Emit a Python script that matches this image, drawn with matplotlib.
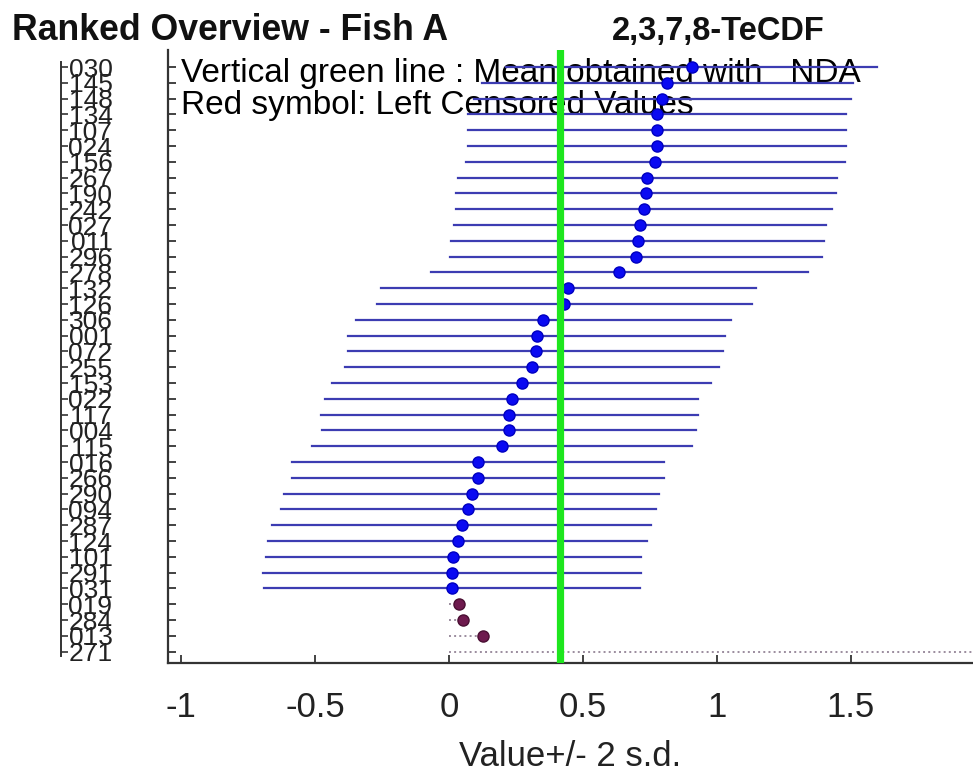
import matplotlib
matplotlib.use('Agg')
import matplotlib.pyplot as plt

plt.rcParams['font.family'] = ['Liberation Sans', 'DejaVu Sans']

# lab codes, ranked from top to bottom
labels = ['030', '145', '148', '134', '107', '024', '156', '267', '190', '242',
          '027', '011', '296', '278', '132', '126', '306', '001', '072', '255',
          '153', '022', '117', '004', '115', '016', '266', '290', '094', '287',
          '124', '101', '291', '031', '019', '284', '013', '271']

# reported values
values = [0.906, 0.815, 0.796, 0.777, 0.777, 0.777, 0.771, 0.741, 0.734, 0.728,
          0.713, 0.704, 0.698, 0.636, 0.445, 0.431, 0.352, 0.327, 0.323, 0.310,
          0.272, 0.234, 0.225, 0.225, 0.197, 0.108, 0.108, 0.085, 0.072, 0.047,
          0.032, 0.016, 0.010, 0.010, 0.038, 0.053, 0.128, 2.10]

# 2 s.d. half widths (only for the non-censored results)
two_sd = [0.694, 0.692, 0.704, 0.707, 0.707, 0.707, 0.707, 0.708, 0.710, 0.701,
          0.696, 0.696, 0.695, 0.705, 0.700, 0.700, 0.700, 0.703, 0.700, 0.700,
          0.708, 0.696, 0.705, 0.699, 0.709, 0.694, 0.694, 0.700, 0.700, 0.709,
          0.709, 0.699, 0.705, 0.703]

# left censored results (value below detection limit)
censored = [False] * 34 + [True] * 4

mean_nda = 0.414

fig = plt.figure(figsize=(9.73, 7.75), dpi=100)
ax = fig.add_axes([168 / 973, 112 / 775, 805 / 973, 613 / 775])

line_col = '#3c3cb2'
for i, (v, c) in enumerate(zip(values, censored)):
    if c:
        ax.plot([0, v], [i, i], ls=':', color='#9b8c9e', lw=1.4, zorder=2)
        ax.plot(v, i, 'o', color='#6e1a4e', mec='#4a0f33', ms=8, zorder=4)
    else:
        ax.plot([v - two_sd[i], v + two_sd[i]], [i, i], color=line_col, lw=1.6, zorder=2)
        ax.plot(v, i, 'o', color='#0a0af2', mec='#0000c0', ms=8, zorder=3)

ax.axvline(mean_nda, color='#1ee61e', lw=5.2, zorder=5)

ax.text(-1.0, 0.95, 'Vertical green line : Mean obtained with   NDA',
        fontsize=24, va='baseline', zorder=1)
ax.text(-1.0, 2.97, 'Red symbol: Left Censored Values',
        fontsize=24, va='baseline', zorder=1)

ax.set_xlim(-1.05, 1.957)
ax.set_ylim(37.72, -1.08)
ax.set_xticks([-1, -0.5, 0, 0.5, 1, 1.5])
ax.set_xticklabels(['-1', '-0.5', '0', '0.5', '1', '1.5'])
ax.set_yticks(range(len(labels)))
ax.set_yticklabels(labels)
ax.tick_params(axis='x', direction='in', length=6, width=1.2, labelsize=25,
               pad=20, colors='#222222')
ax.tick_params(axis='y', direction='in', length=6, width=1.2, labelsize=19,
               pad=40, colors='#222222')
ax.set_xlabel('Value+/- 2 s.d.', fontsize=25, labelpad=12, color='#222222')
ax.spines['top'].set_visible(False)
ax.spines['right'].set_visible(False)
for s in ['left', 'bottom']:
    ax.spines[s].set_linewidth(1.6)
    ax.spines[s].set_color('#333333')

# small tick ruler left of the lab codes
ax2 = fig.add_axes([61 / 973, 112 / 775, 10 / 973, 613 / 775])
ax2.patch.set_visible(False)
ax2.set_ylim(37.72, -1.08)
ax2.set_yticks(range(len(labels)))
ax2.set_xticks([])
ax2.tick_params(axis='y', direction='in', length=5, width=1.2, labelleft=False,
                colors='#333333')
for s in ['top', 'right', 'bottom']:
    ax2.spines[s].set_visible(False)
ax2.spines['left'].set_bounds(-0.3, 37.3)
ax2.spines['left'].set_linewidth(1.4)
ax2.spines['left'].set_color('#333333')

fig.text(12 / 973, 1 - 40 / 775, 'Ranked Overview - Fish A', fontsize=25.7,
         weight='bold', va='baseline', color='#111111')
fig.text(612 / 973, 1 - 40 / 775, '2,3,7,8-TeCDF', fontsize=23.5,
         weight='bold', va='baseline', color='#111111')

fig.savefig('out.png', dpi=100)
